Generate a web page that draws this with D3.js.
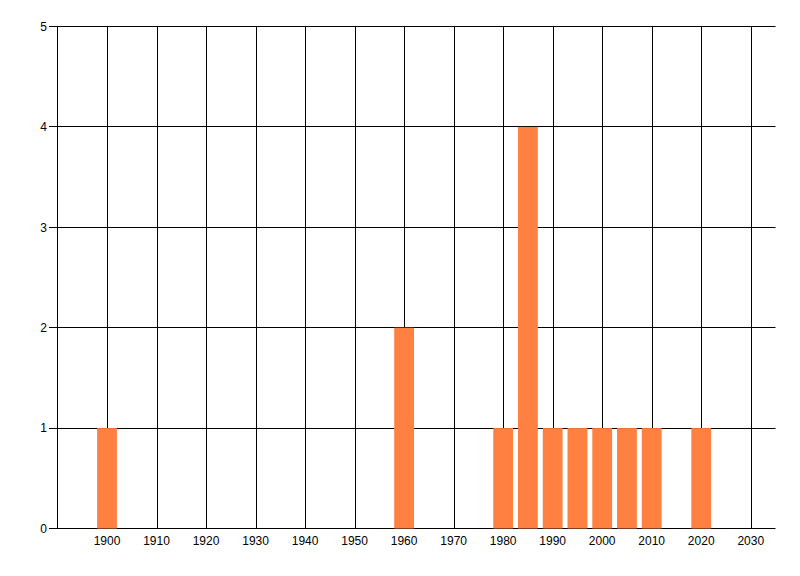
<!DOCTYPE html>
<html>
<head>
<meta charset="utf-8">
<script src="https://cdn.jsdelivr.net/npm/d3@7"></script>
<style>
html,body{margin:0;padding:0;background:#fff;}
svg text{font-family:"Liberation Sans Narrow","Liberation Sans",Arial,sans-serif;font-size:12px;fill:#000;}
</style>
</head>
<body>
<svg id="chart" width="800" height="576"></svg>
<script>
const years = [1900, 1960, 1980, 1985, 1990, 1995, 2000, 2005, 2010, 2020];
const counts = [1, 2, 1, 4, 1, 1, 1, 1, 1, 1];
const xTicks = [1900, 1910, 1920, 1930, 1940, 1950, 1960, 1970, 1980, 1990, 2000, 2010, 2020, 2030];
const yTicks = [0, 1, 2, 3, 4, 5];

(function () {
const svg = d3.select("#chart");
const pLeft = 57.5, pRight = 775.5, pTop = 26.5, pBottom = 528.5;
const x = d3.scaleLinear().domain([1890, 2035]).range([pLeft, pRight]);
const y = d3.scaleLinear().domain([0, 5]).range([pBottom, pTop]);

// vertical gridlines
svg.append("g").selectAll("line").data(xTicks).join("line")
  .attr("x1", d => Math.round(x(d)) + 0.5).attr("x2", d => Math.round(x(d)) + 0.5)
  .attr("y1", pTop).attr("y2", pBottom)
  .attr("stroke", "#000").attr("stroke-width", 1);

// horizontal gridlines with ticks
svg.append("g").selectAll("line").data(yTicks).join("line")
  .attr("x1", 49).attr("x2", pRight)
  .attr("y1", d => Math.round(y(d) - 0.5) + 0.5).attr("y2", d => Math.round(y(d) - 0.5) + 0.5)
  .attr("stroke", "#000").attr("stroke-width", 1);

// left axis line
svg.append("line").attr("x1", pLeft).attr("x2", pLeft).attr("y1", pTop).attr("y2", pBottom)
  .attr("stroke", "#000");

// bars
svg.append("g").selectAll("rect").data(years).join("rect")
  .attr("x", d => x(d - 2))
  .attr("width", d => x(d + 2) - x(d - 2))
  .attr("y", (d, i) => y(counts[i]))
  .attr("height", (d, i) => y(0) - y(counts[i]))
  .attr("fill", "#ff8040");

// y labels
svg.append("g").selectAll("text").data(yTicks).join("text")
  .attr("x", 47).attr("y", d => y(d)).attr("dy", "0.35em")
  .attr("text-anchor", "end").text(d => d);

// x labels
svg.append("g").selectAll("text").data(xTicks).join("text")
  .attr("x", d => x(d)).attr("y", 545)
  .attr("text-anchor", "middle").text(d => d);
})();
</script>
</body>
</html>
